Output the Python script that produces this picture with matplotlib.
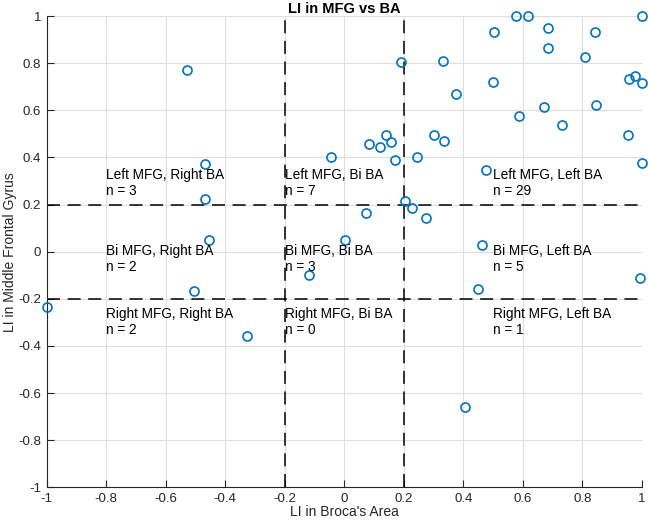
import matplotlib
matplotlib.use("Agg")
import matplotlib.pyplot as plt
import numpy as np

plt.rcParams['font.family'] = ['Liberation Sans', 'DejaVu Sans']

# LI values
ba_li = [-0.527, -0.467, -0.467, -0.454, -0.505, -1.0, -0.326,
         0.579, 0.617, 1.0, 0.505, 0.685, 0.842, 0.685, 0.809, 0.190,
         0.331, 0.500, 0.375, 0.957, 0.976, 1.0, 0.673, 0.846, 0.589,
         0.732, 0.953, 1.0, 0.302, 0.334, 0.142, 0.084, 0.121, 0.158,
         0.170, 0.246, -0.043, 0.476, 0.205, 0.229, 0.275, 0.072, 0.003,
         0.464, -0.117, 0.994, 0.450, 0.407]
mfg_li = [0.771, 0.371, 0.225, 0.051, -0.166, -0.235, -0.358,
          1.0, 1.0, 1.0, 0.931, 0.948, 0.931, 0.866, 0.825, 0.803,
          0.808, 0.720, 0.668, 0.731, 0.744, 0.714, 0.615, 0.621, 0.576,
          0.539, 0.494, 0.377, 0.494, 0.470, 0.494, 0.458, 0.445, 0.464,
          0.388, 0.400, 0.400, 0.348, 0.215, 0.184, 0.143, 0.163, 0.051,
          0.027, -0.100, -0.112, -0.160, -0.659]

thresholds = [-0.2, 0.2]

region_x = [-0.8, -0.2, 0.5]
region_y = [0.29, -0.03, -0.30]
region_labels = [["Left MFG, Right BA\nn = 3", "Left MFG, Bi BA\nn = 7", "Left MFG, Left BA\nn = 29"],
                 ["Bi MFG, Right BA\nn = 2", "Bi MFG, Bi BA\nn = 3", "Bi MFG, Left BA\nn = 5"],
                 ["Right MFG, Right BA\nn = 2", "Right MFG, Bi BA\nn = 0", "Right MFG, Left BA\nn = 1"]]

ticks = np.round(np.arange(-1, 1.01, 0.2), 1)
tick_labels = ['-1', '-0.8', '-0.6', '-0.4', '-0.2', '0', '0.2', '0.4', '0.6', '0.8', '1']

axis_col = '#262626'

fig = plt.figure(figsize=(6.48, 5.23), dpi=100)
ax = fig.add_axes([0.0721, 0.0683, 0.9182, 0.9011])

ax.plot(ba_li, mfg_li, 'o', mfc='none', mec='#0072BD', ms=6.5, mew=1.2,
        clip_on=False, zorder=3)

for t in thresholds:
    ax.axvline(t, color='black', ls=(0, (8.5, 5)), lw=1.1, zorder=2)
    ax.axhline(t, color='black', ls=(0, (8.5, 5)), lw=1.1, zorder=2)

for i in range(3):
    for j in range(3):
        ax.text(region_x[j], region_y[i], region_labels[i][j], ha='left', va='center',
                fontsize=9.8, color='black', linespacing=1.2)

ax.set_xlim(-1, 1)
ax.set_ylim(-1, 1)
ax.set_xticks(ticks)
ax.set_xticklabels(tick_labels)
ax.set_yticks(ticks)
ax.set_yticklabels(tick_labels)
ax.grid(True, color='#dedede', lw=0.8)
ax.set_axisbelow(True)
for s in ['top', 'right']:
    ax.spines[s].set_visible(False)
for s in ['left', 'bottom']:
    ax.spines[s].set_color(axis_col)
    ax.spines[s].set_linewidth(0.8)
ax.tick_params(direction='in', length=5, width=0.8, colors=axis_col, labelsize=9.5, pad=4)

ax.set_xlabel("LI in Broca's Area", fontsize=10, color=axis_col, labelpad=0)
ax.set_ylabel("LI in Middle Frontal Gyrus", fontsize=10, color=axis_col, labelpad=1)
ax.set_title("LI in MFG vs BA", fontsize=10.5, fontweight='bold', pad=1)

fig.savefig("out.png", dpi=100)
